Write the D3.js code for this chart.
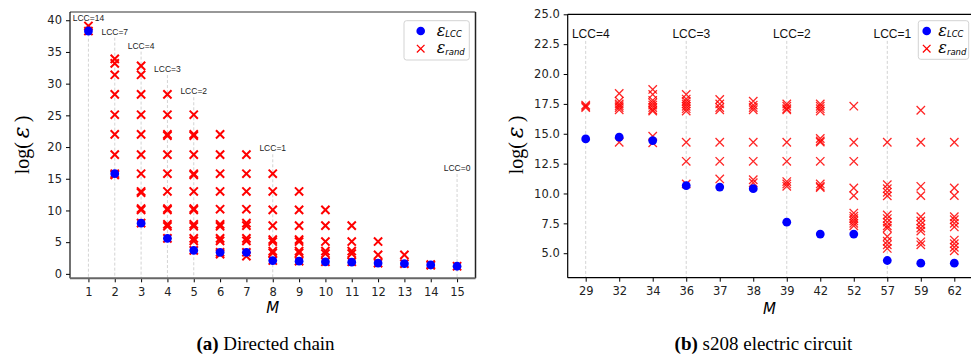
<!DOCTYPE html>
<html>
<head>
<meta charset="utf-8">
<script src="https://cdn.jsdelivr.net/npm/d3@7"></script>
<style>
body { margin: 0; background: #fff; }
svg { display: block; }
</style>
</head>
<body>
<div id="chart"></div>
<script>
// (a) directed chain
const chainM = [1, 2, 3, 4, 5, 6, 7, 8, 9, 10, 11, 12, 13, 14, 15];
const chainLCC = [38.3, 15.8, 8.0, 5.6, 3.7, 3.4, 3.4, 2.1, 2.0, 1.9, 1.85, 1.7, 1.6, 1.4, 1.2];
const chainRand = [
    [39.1, 38.3],
    [33.9, 33.2, 31.4, 28.3, 25.1, 22.0, 18.8, 15.8, 15.6],
    [32.8, 31.4, 28.3, 25.1, 22.0, 18.8, 15.8, 13.0, 12.8, 10.3, 10.1, 8.0],
    [28.3, 25.1, 22.0, 21.8, 18.8, 15.8, 13.0, 10.3, 10.1, 7.8, 7.5, 5.6],
    [25.1, 22.0, 21.8, 18.8, 15.8, 15.6, 13.0, 10.3, 10.1, 7.8, 7.5, 5.6, 5.2, 3.7],
    [22.0, 18.8, 15.8, 13.0, 10.2, 7.8, 7.5, 5.6, 5.2, 3.4, 3.1],
    [18.8, 15.8, 13.0, 10.2, 8.0, 7.6, 5.6, 5.2, 3.4, 2.8],
    [15.8, 13.0, 10.1, 7.6, 5.4, 5.1, 3.6, 3.3, 2.1],
    [13.0, 10.1, 7.6, 5.4, 5.1, 3.6, 3.3, 2.0],
    [10.1, 7.6, 5.1, 3.6, 3.2, 1.9],
    [7.6, 5.1, 3.6, 3.2, 1.9],
    [5.1, 3.0, 1.7],
    [3.0, 1.6],
    [1.45, 1.35],
    [1.2]
];
const chainLccAt = [1, 2, 3, 4, 5, 8, 15];
const chainLccText = ['LCC=14', 'LCC=7', 'LCC=4', 'LCC=3', 'LCC=2', 'LCC=1', 'LCC=0'];
const chainLccY = [40.4, 38.2, 36.0, 32.3, 28.8, 19.8, 16.7];
const chainYTicks = [0, 5, 10, 15, 20, 25, 30, 35, 40];

// (b) s208 electric circuit
const circuitM = ['29', '32', '34', '36', '37', '38', '39', '42', '52', '57', '59', '62'];
const circuitLCC = [14.57, 14.71, 14.43, 10.65, 10.54, 10.40, 7.6, 6.6, 6.6, 4.39, 4.17, 4.17];
const circuitRand = [
    [17.4, 17.3, 17.2],
    [18.37, 17.73, 17.5, 17.35, 17.2, 17.0, 14.29],
    [18.71, 18.29, 17.8, 17.6, 17.4, 17.2, 17.0, 16.9, 14.79, 14.24],
    [18.29, 17.9, 17.7, 17.5, 17.3, 17.1, 16.9, 14.29, 12.69, 10.8],
    [17.87, 17.5, 17.2, 17.0, 14.29, 12.69, 11.22],
    [17.73, 17.4, 17.2, 17.0, 14.29, 12.69, 11.15, 10.9],
    [17.5, 17.3, 17.1, 17.0, 14.29, 12.69, 11.0, 10.8, 10.6],
    [17.5, 17.3, 17.1, 16.9, 14.6, 14.4, 14.3, 12.69, 10.8, 10.6, 10.5],
    [17.31, 14.29, 12.69, 10.46, 9.82, 8.36, 8.1, 7.9, 7.7, 7.5, 7.3],
    [14.29, 10.74, 10.4, 10.1, 9.8, 8.2, 7.9, 7.6, 7.3, 7.1, 6.4, 6.0, 5.7, 5.4],
    [16.97, 14.29, 10.6, 9.82, 8.05, 7.7, 7.4, 7.1, 6.85, 5.95, 5.7],
    [14.29, 10.46, 9.82, 8.05, 7.8, 7.5, 7.2, 6.1, 5.8, 5.5, 5.2]
];
const circuitLccAt = ['29', '36', '39', '57'];
const circuitLccText = ['LCC=4', 'LCC=3', 'LCC=2', 'LCC=1'];
const circuitLccY = 23.4;
const circuitYTicks = [5, 7.5, 10, 12.5, 15, 17.5, 20, 22.5, 25];

const width = 971;
const height = 358;
const tickFont = '11.5px "DejaVu Sans", sans-serif';

const svg = d3.select('#chart').append('svg')
    .attr('width', width)
    .attr('height', height)
    .attr('viewBox', [0, 0, width, height]);

// x marker as a path
const cross = s => `M${-s},${-s}L${s},${s}M${-s},${s}L${s},${-s}`;

drawChain();
drawCircuit();

function styleAxis(g) {
    g.select('.domain').remove();
    g.selectAll('.tick line').attr('stroke', '#000').attr('stroke-width', 1);
    g.selectAll('.tick text')
        .attr('fill', '#222')
        .style('font', tickFont);
}

function spines(box, colors) {
    const s = svg.append('g').attr('fill', 'none');
    s.append('line').attr('x1', box.left).attr('x2', box.right).attr('y1', box.top).attr('y2', box.top)
        .attr('stroke', colors.top[0]).attr('stroke-width', colors.top[1]);
    s.append('line').attr('x1', box.right).attr('x2', box.right).attr('y1', box.top).attr('y2', box.bottom)
        .attr('stroke', colors.right[0]).attr('stroke-width', colors.right[1]);
    s.append('line').attr('x1', box.left).attr('x2', box.left).attr('y1', box.top).attr('y2', box.bottom)
        .attr('stroke', colors.left[0]).attr('stroke-width', colors.left[1]);
    s.append('line').attr('x1', box.left).attr('x2', box.right).attr('y1', box.bottom).attr('y2', box.bottom)
        .attr('stroke', colors.bottom[0]).attr('stroke-width', colors.bottom[1]);
}

function epsLabel(g, x, y, sub) {
    const t = g.append('text')
        .attr('x', x)
        .attr('y', y)
        .attr('fill', '#000');
    t.append('tspan')
        .style('font', 'italic 16px "DejaVu Serif", serif')
        .text('ε');
    t.append('tspan')
        .attr('dy', 1.5)
        .style('font', 'italic 8.5px "DejaVu Sans", sans-serif')
        .text(sub);
}

function legend(x, y, w, h, mx, tx) {
    const g = svg.append('g').attr('transform', `translate(${x},${y})`);
    g.append('rect')
        .attr('width', w).attr('height', h)
        .attr('rx', 2.5)
        .attr('fill', 'rgba(255,255,255,0.85)')
        .attr('stroke', '#d3d3d3')
        .attr('stroke-width', 1);
    g.append('circle')
        .attr('cx', mx).attr('cy', 10.3).attr('r', 4.3)
        .attr('fill', '#0000ff');
    g.append('path')
        .attr('transform', `translate(${mx},28)`)
        .attr('d', cross(3.8))
        .attr('stroke', '#ff0000').attr('stroke-width', 1.3);
    epsLabel(g, tx, 15, 'LCC');
    epsLabel(g, tx, 32.6, 'rand');
}

function yLabel(x, y) {
    const t = svg.append('text')
        .attr('transform', `translate(${x},${y}) rotate(-90)`)
        .attr('text-anchor', 'middle')
        .attr('fill', '#000')
        .style('font', '20px "Liberation Serif", "DejaVu Serif", serif');
    t.append('tspan').text('log(\u2009');
    t.append('tspan').style('font', 'italic 22px "DejaVu Serif", serif').text('ε');
    t.append('tspan').text('\u2009)');
}

function caption(x, y, tag, rest) {
    const t = svg.append('text')
        .attr('x', x).attr('y', y)
        .attr('text-anchor', 'middle')
        .attr('fill', '#000')
        .style('font', '19px "Liberation Serif", "Times New Roman", serif');
    t.append('tspan').attr('font-weight', 'bold').text(tag);
    t.append('tspan').text(rest);
}

function drawChain() {
    const box = {left: 70, right: 475.5, top: 12, bottom: 278.3};

    const x = d3.scaleLinear().domain([0.3, 15.7]).range([box.left, box.right]);
    const y = d3.scaleLinear().domain([-0.7, 41.3]).range([box.bottom, box.top]);

    // dashed guides under LCC labels
    svg.append('g')
        .selectAll('line')
        .data(chainLccAt)
        .join('line')
            .attr('x1', d => x(d)).attr('x2', d => x(d))
            .attr('y1', (d, i) => y(chainLccY[i]) + 6)
            .attr('y2', box.bottom)
            .attr('stroke', '#c8c8c8')
            .attr('stroke-width', 0.8)
            .attr('stroke-dasharray', '3,2');

    svg.append('g')
        .selectAll('text')
        .data(chainLccText)
        .join('text')
            .attr('x', (d, i) => x(chainLccAt[i]))
            .attr('y', (d, i) => y(chainLccY[i]) + 3)
            .attr('text-anchor', 'middle')
            .attr('fill', '#222')
            .style('font', '8.5px "Liberation Sans", Arial, sans-serif')
            .text(d => d);

    const rand = chainRand.flatMap((vals, i) => vals.map(v => ({m: chainM[i], v: v})));
    svg.append('g')
        .selectAll('path')
        .data(rand)
        .join('path')
            .attr('transform', d => `translate(${x(d.m)},${y(d.v)})`)
            .attr('d', cross(4.1))
            .attr('stroke', '#ff0000')
            .attr('stroke-width', 2);

    svg.append('g')
        .selectAll('circle')
        .data(chainLCC)
        .join('circle')
            .attr('cx', (d, i) => x(chainM[i]))
            .attr('cy', d => y(d))
            .attr('r', 4.4)
            .attr('fill', '#0000ff');

    svg.append('g')
        .attr('transform', `translate(0,${box.bottom})`)
        .call(d3.axisBottom(x).tickValues(chainM).tickSize(4).tickPadding(5.5))
        .call(styleAxis);
    svg.append('g')
        .attr('transform', `translate(${box.left},0)`)
        .call(d3.axisLeft(y).tickValues(chainYTicks).tickSize(4).tickPadding(4))
        .call(styleAxis);

    spines(box, {top: ['#333', 1.2], right: ['#222', 1.5], left: ['#111', 1.2], bottom: ['#666', 2]});

    svg.append('text')
        .attr('x', (box.left + box.right) / 2)
        .attr('y', 313)
        .attr('text-anchor', 'middle')
        .style('font', 'italic 15px "DejaVu Sans", sans-serif')
        .text('M');

    yLabel(29, 145);
    legend(404, 20.7, 65.3, 39.3, 16.7, 32.7);
    caption(265.5, 350, '(a)', ' Directed chain');
}

function drawCircuit() {
    const box = {left: 567.7, right: 972.3, top: 14.3, bottom: 277.7};

    // categories placed at their index
    const x = d3.scaleLinear().domain([-0.537, 11.537]).range([box.left, box.right]);
    const y = d3.scaleLinear().domain([2.95, 25]).range([box.bottom, box.top]);
    const idx = m => circuitM.indexOf(m);

    svg.append('g')
        .selectAll('line')
        .data(circuitLccAt)
        .join('line')
            .attr('x1', d => x(idx(d))).attr('x2', d => x(idx(d)))
            .attr('y1', y(circuitLccY) + 7.5)
            .attr('y2', box.bottom)
            .attr('stroke', '#c8c8c8')
            .attr('stroke-width', 0.8)
            .attr('stroke-dasharray', '3,2');

    svg.append('g')
        .selectAll('text')
        .data(circuitLccText)
        .join('text')
            .attr('x', (d, i) => x(idx(circuitLccAt[i]) + 0.15))
            .attr('y', y(circuitLccY) + 4.3)
            .attr('text-anchor', 'middle')
            .attr('fill', '#111')
            .style('font', '12px "Liberation Sans", Arial, sans-serif')
            .text(d => d);

    const rand = circuitRand.flatMap((vals, i) => vals.map(v => ({i: i, v: v})));
    svg.append('g')
        .selectAll('path')
        .data(rand)
        .join('path')
            .attr('transform', d => `translate(${x(d.i)},${y(d.v)})`)
            .attr('d', cross(4.2))
            .attr('stroke', '#ff0000')
            .attr('stroke-opacity', 0.85)
            .attr('stroke-width', 1.3);

    svg.append('g')
        .selectAll('circle')
        .data(circuitLCC)
        .join('circle')
            .attr('cx', (d, i) => x(i))
            .attr('cy', d => y(d))
            .attr('r', 4.4)
            .attr('fill', '#0000ff');

    svg.append('g')
        .attr('transform', `translate(0,${box.bottom})`)
        .call(d3.axisBottom(x).tickValues(d3.range(circuitM.length))
            .tickFormat(i => circuitM[i]).tickSize(4).tickPadding(5.5))
        .call(styleAxis);
    svg.append('g')
        .attr('transform', `translate(${box.left},0)`)
        .call(d3.axisLeft(y).tickValues(circuitYTicks).tickFormat(d3.format('.1f')).tickSize(4).tickPadding(4))
        .call(styleAxis);

    spines(box, {top: ['#000', 1.2], right: ['#000', 1.2], left: ['#000', 1.2], bottom: ['#000', 1.2]});

    svg.append('text')
        .attr('x', 769.5)
        .attr('y', 313.5)
        .attr('text-anchor', 'middle')
        .style('font', 'italic 15px "DejaVu Sans", sans-serif')
        .text('M');

    yLabel(523, 145);
    legend(918.3, 20.7, 50.4, 38.6, 8.4, 20);
    caption(763.5, 350, '(b)', ' s208 electric circuit');
}
</script>
</body>
</html>
